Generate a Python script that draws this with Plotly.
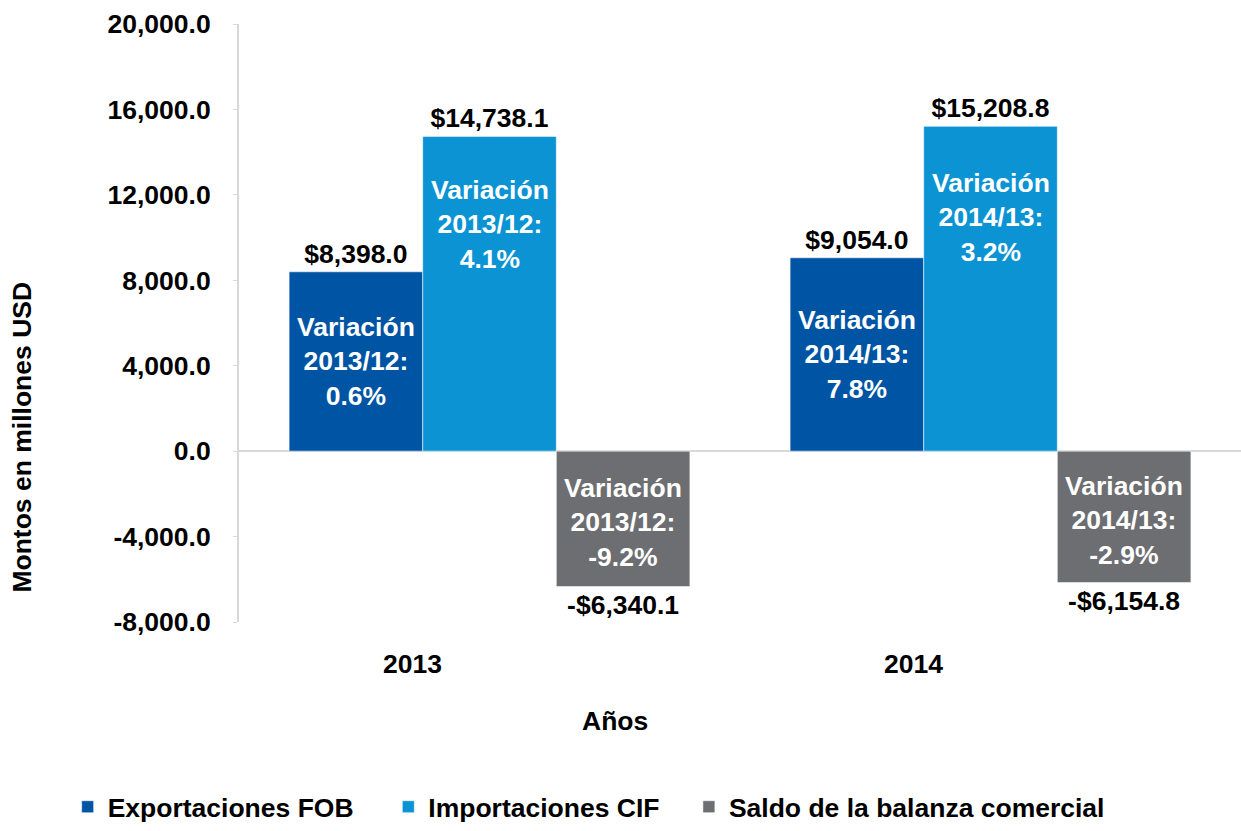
import plotly.graph_objects as go

# ---------------- data ----------------
years = ["2013", "2014"]
exportaciones = [8398.0, 9054.0]
importaciones = [14738.1, 15208.8]
saldo = [-6340.1, -6154.8]
var_periodos = ["2013/12", "2014/13"]
var_exportaciones = ["0.6%", "7.8%"]
var_importaciones = ["4.1%", "3.2%"]
var_saldo = ["-9.2%", "-2.9%"]
series_names = ["Exportaciones FOB", "Importaciones CIF", "Saldo de la balanza comercial"]
y_ticks = [-8000, -4000, 0, 4000, 8000, 12000, 16000, 20000]
y_ticktext = ["-8,000.0", "-4,000.0", "0.0", "4,000.0", "8,000.0", "12,000.0", "16,000.0", "20,000.0"]

# ---------------- style ----------------
colors = ["#0054A4", "#0B93D3", "#6D6E71"]
FONT = "Liberation Sans, Arial, sans-serif"
FS = 26.5
W, H = 1241, 831
ML, MR, MT, MB = 239, 0, 24, 201
BARGAP = 0.2
label_pos = [0.5, 0.72, 0.53]  # fraction of bar height where variation text sits
legend_x = [-0.171, 0.149, 0.449]


def money(v):
    return f"-${abs(v):,.1f}" if v < 0 else f"${v:,.1f}"


fig = go.Figure()
all_vals = [exportaciones, importaciones, saldo]
all_vars = [var_exportaciones, var_importaciones, var_saldo]
for i, (name, vals) in enumerate(zip(series_names, all_vals)):
    fig.add_trace(go.Bar(
        x=years, y=vals, name=name,
        marker=dict(color=colors[i], line=dict(width=1, color="rgba(255,255,255,0.55)")),
        text=[money(v) for v in vals],
        textposition="outside",
        textfont=dict(family=FONT, size=FS, color="black", weight="bold"),
        constraintext="none",
        cliponaxis=False,
        legend="legend" if i == 0 else f"legend{i + 1}",
    ))

plot_w = W - ML - MR
bar_px = plot_w / len(years) * (1 - BARGAP) / 3
annotations = []
for i, (vals, vars_) in enumerate(zip(all_vals, all_vars)):
    for j, yr in enumerate(years):
        annotations.append(dict(
            x=j, y=vals[j] * label_pos[i], xref="x", yref="y",
            xshift=(i - 1) * bar_px,
            text=f"Variación<br>{var_periodos[j]}:<br>{vars_[j]}",
            showarrow=False, align="center",
            font=dict(family=FONT, size=FS, color="white", weight="bold"),
        ))

annotations.append(dict(
    text="Montos en millones USD", textangle=-90,
    xref="paper", yref="paper", x=-0.2166, y=0.31,
    xanchor="center", yanchor="middle", showarrow=False,
    font=dict(family=FONT, size=FS, color="black", weight="bold"),
))
annotations.append(dict(
    text="Años", xref="paper", yref="paper", x=0.375, y=-0.165,
    xanchor="center", yanchor="middle", showarrow=False,
    font=dict(family=FONT, size=FS, color="black", weight="bold"),
))

legend_common = dict(
    orientation="h", yanchor="middle", xanchor="left", y=-0.31,
    font=dict(family=FONT, size=FS, color="black", weight="bold"),
    bgcolor="rgba(0,0,0,0)", itemwidth=30,
)

fig.update_layout(
    width=W, height=H,
    margin=dict(l=ML, r=MR, t=MT, b=MB, pad=0),
    paper_bgcolor="white", plot_bgcolor="white",
    barmode="group", bargap=BARGAP, bargroupgap=0,
    showlegend=True,
    legend=dict(x=legend_x[0], **legend_common),
    legend2=dict(x=legend_x[1], **legend_common),
    legend3=dict(x=legend_x[2], **legend_common),
    annotations=annotations,
    xaxis=dict(
        type="category", range=[-0.5, len(years) - 0.5],
        showgrid=False, showline=False, zeroline=False,
        ticks="", ticklabelshift=-77, ticklabelstandoff=23,
        tickfont=dict(family=FONT, size=FS, color="black", weight="bold"),
    ),
    yaxis=dict(
        range=[-8000, 20000], tickvals=y_ticks, ticktext=y_ticktext,
        showgrid=False, showline=True, linecolor="#D9D9D9", linewidth=2,
        zeroline=True, zerolinecolor="#D9D9D9", zerolinewidth=2,
        ticks="outside", ticklen=4, tickcolor="#D9D9D9", tickwidth=1,
        ticklabelstandoff=17,
        tickfont=dict(family=FONT, size=FS, color="black", weight="bold"),
    ),
)

fig.write_html(
    "out.html",
    config={"displayModeBar": False},
    post_script="document.body.style.margin='0px';document.body.style.overflow='hidden';",
)
